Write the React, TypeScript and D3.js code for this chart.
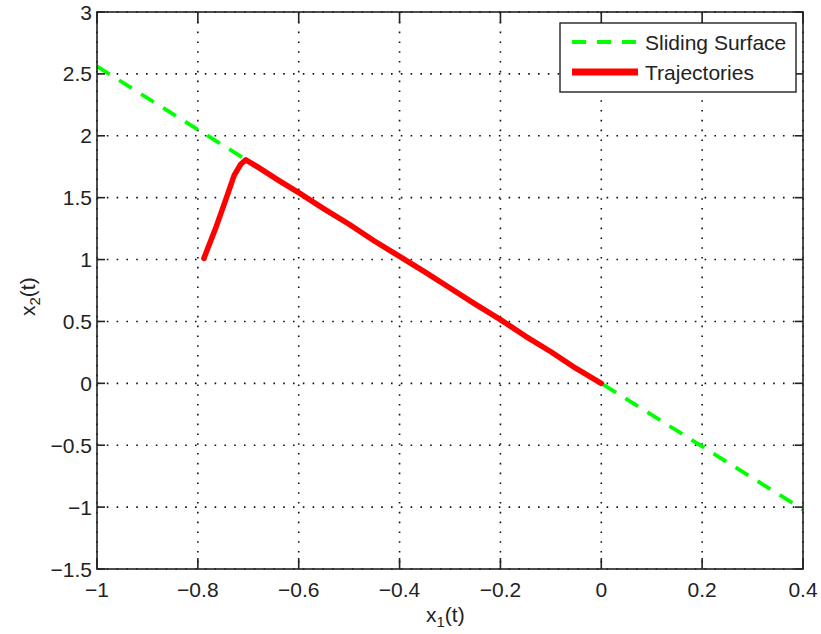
import React from "react";
import * as d3 from "d3";

const xTicks = [-1, -0.8, -0.6, -0.4, -0.2, 0, 0.2, 0.4];
const yTicks = [3, 2.5, 2, 1.5, 1, 0.5, 0, -0.5, -1, -1.5];

const surfaceX = [-1, -0.8, -0.6, -0.4, -0.2, 0, 0.2, 0.4];
const surfaceY = [2.56, 2.05, 1.54, 1.02, 0.51, 0, -0.51, -1.02];

const trajX = [-0.788, -0.765, -0.745, -0.728, -0.715, -0.705, -0.68, -0.64, -0.6, -0.55, -0.5, -0.45, -0.4, -0.35, -0.3, -0.25, -0.2, -0.15, -0.1, -0.05, 0];
const trajY = [1.01, 1.25, 1.48, 1.68, 1.77, 1.805, 1.745, 1.64, 1.54, 1.41, 1.285, 1.15, 1.025, 0.9, 0.77, 0.64, 0.515, 0.38, 0.255, 0.12, 0];

const legendLabels = ["Sliding Surface", "Trajectories"];

export default function App() {
  const W = 821, H = 634;
  const left = 97, right = 803, top = 12, bottom = 569;
  const x = d3.scaleLinear().domain([-1, 0.4]).range([left, right]);
  const y = d3.scaleLinear().domain([-1.5, 3]).range([bottom, top]);
  const line = d3.line<[number, number]>().x(d => x(d[0])).y(d => y(d[1]));
  const surf = surfaceX.map((v, i) => [v, surfaceY[i]] as [number, number]);
  const traj = trajX.map((v, i) => [v, trajY[i]] as [number, number]);
  const fmt = (v: number) => (v < 0 ? "\u2212" : "") + String(Math.abs(v));
  const font = "Liberation Sans, Arial, sans-serif";
  const axisColor = "#222";
  const fs = 21;
  return (
    <svg width={W} height={H} style={{ position: "absolute", left: 0, top: 0, background: "#fff" }} fontFamily={font}>
      <rect x={0} y={0} width={W} height={H} fill="#fff" />
      {/* grid */}
      {xTicks.map(t => (
        <line key={"gx" + t} x1={x(t)} x2={x(t)} y1={top} y2={bottom} stroke="#111" strokeWidth={1.6} strokeDasharray="1.6,8.2" />
      ))}
      {yTicks.map(t => (
        <line key={"gy" + t} x1={left} x2={right} y1={y(t)} y2={y(t)} stroke="#111" strokeWidth={1.6} strokeDasharray="1.6,8.2" />
      ))}
      {/* data */}
      <path d={line(surf) || ""} fill="none" stroke="#00ff00" strokeWidth={3.8} strokeDasharray="15,11" />
      <path d={line(traj) || ""} fill="none" stroke="#ff0000" strokeWidth={5.5} strokeLinejoin="round" strokeLinecap="round" />
      {/* box */}
      <rect x={left} y={top} width={right - left} height={bottom - top} fill="none" stroke={axisColor} strokeWidth={1.6} />
      {/* ticks */}
      {xTicks.map(t => (
        <g key={"tx" + t}>
          <line x1={x(t)} x2={x(t)} y1={bottom} y2={bottom - 11} stroke={axisColor} strokeWidth={1.6} />
          <line x1={x(t)} x2={x(t)} y1={top} y2={top + 11} stroke={axisColor} strokeWidth={1.6} />
          <text x={x(t)} y={597} textAnchor="middle" fontSize={fs} fill="#222">{fmt(t)}</text>
        </g>
      ))}
      {yTicks.map(t => (
        <g key={"ty" + t}>
          <line x1={left} x2={left + 8} y1={y(t)} y2={y(t)} stroke={axisColor} strokeWidth={1.6} />
          <line x1={right} x2={right - 8} y1={y(t)} y2={y(t)} stroke={axisColor} strokeWidth={1.6} />
          <text x={92} y={y(t) + 7.5} textAnchor="end" fontSize={fs} fill="#222">{fmt(t)}</text>
        </g>
      ))}
      {/* axis titles */}
      <text x={426} y={622} fontSize={fs} fill="#222">
        x<tspan fontSize={15} dy={5}>1</tspan><tspan dy={-5}>(t)</tspan>
      </text>
      <text transform="translate(35,316) rotate(-90)" fontSize={fs} fill="#222">
        x<tspan fontSize={15} dy={5}>2</tspan><tspan dy={-5}>(t)</tspan>
      </text>
      {/* legend */}
      <rect x={560} y={23} width={236} height={69} fill="#fff" stroke={axisColor} strokeWidth={1.4} />
      <line x1={572} x2={638} y1={42} y2={42} stroke="#00ff00" strokeWidth={3.8} strokeDasharray="14,11" />
      <line x1={572} x2={638} y1={72} y2={72} stroke="#ff0000" strokeWidth={7} />
      <text x={645} y={50} fontSize={fs} fill="#222">{legendLabels[0]}</text>
      <text x={645} y={80} fontSize={fs} fill="#222">{legendLabels[1]}</text>
    </svg>
  );
}
